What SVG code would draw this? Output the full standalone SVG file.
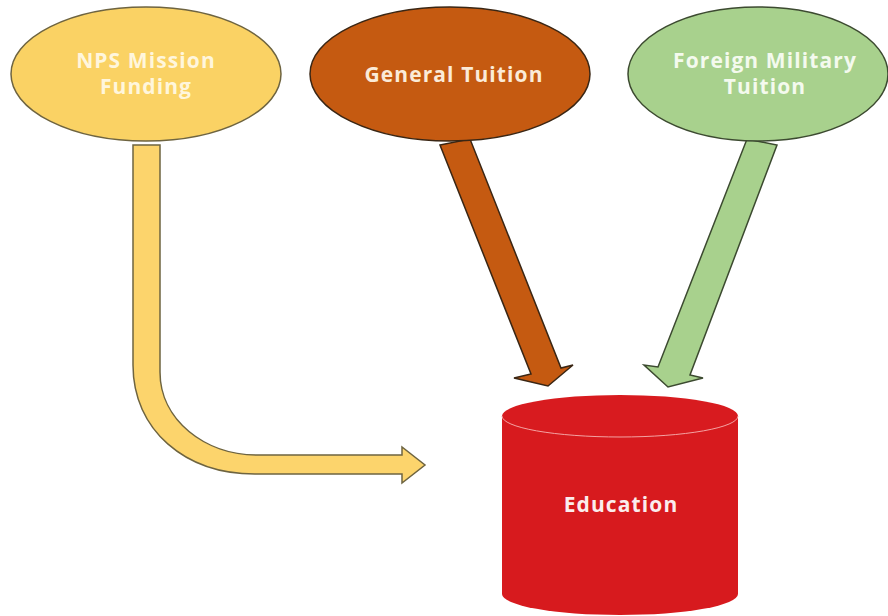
<svg xmlns="http://www.w3.org/2000/svg" width="888" height="616" viewBox="0 0 888 616">
  <style>
    .lbl { font-family: "Open Sans", "Liberation Sans", sans-serif; font-weight: bold; font-size: 21px; letter-spacing: 1.1px; text-anchor: middle; }
    .edge { stroke-width: 1.5; stroke-linejoin: miter; }
  </style>
  <rect x="0" y="0" width="888" height="616" fill="#ffffff"/>
  <g id="connectors">
    <path id="c-nps" class="edge" d="M133,145 L133,365 C133,430 185,474 255,474 L402,474 L402,483 L425,465 L402,447 L402,455 L257,455 C205,455 160,420 160,372 L160,145 Z" fill="#FCD46C" stroke="#6E6440"/>
    <path id="c-gen" class="edge" d="M440,145 L470,139 L561,368 L573,365 L548,386 L514,378 L531,374 Z" fill="#C55A11" stroke="#3A2614"/>
    <path id="c-fmt" class="edge" d="M747,139 L777,145 L690,375 L703,378 L668,387 L644,365 L658,367 Z" fill="#A8D18D" stroke="#3C4A30"/>
  </g>
  <g id="node-nps">
    <ellipse cx="146" cy="74" rx="135" ry="67" fill="#FAD264" stroke="#6E6440" stroke-width="1.5"/>
    <text class="lbl" x="146" y="68" fill="#FFF6DC">NPS Mission</text>
    <text class="lbl" x="146" y="94" fill="#FFF6DC">Funding</text>
  </g>
  <g id="node-general">
    <ellipse cx="450" cy="74" rx="140" ry="67" fill="#C55A11" stroke="#3A2614" stroke-width="1.5"/>
    <text class="lbl" x="454" y="82" fill="#FBEBD8">General Tuition</text>
  </g>
  <g id="node-foreign">
    <ellipse cx="758" cy="74" rx="130" ry="67" fill="#A8D18D" stroke="#3C4A30" stroke-width="1.5"/>
    <text class="lbl" x="765" y="68" fill="#F4FAEE">Foreign Military</text>
    <text class="lbl" x="765" y="94" fill="#F4FAEE">Tuition</text>
  </g>
  <g id="node-education">
    <path d="M502,416 L502,594 A118,21 0 0 0 738,594 L738,416 Z" fill="#D71A1E"/>
    <ellipse cx="620" cy="416" rx="118" ry="21" fill="#D81B1F"/>
    <path d="M502,416 A118,21 0 0 0 738,416" fill="none" stroke="#F4A3A3" stroke-width="1"/>
    <text class="lbl" x="621" y="512" fill="#FBEDED">Education</text>
  </g>
</svg>
